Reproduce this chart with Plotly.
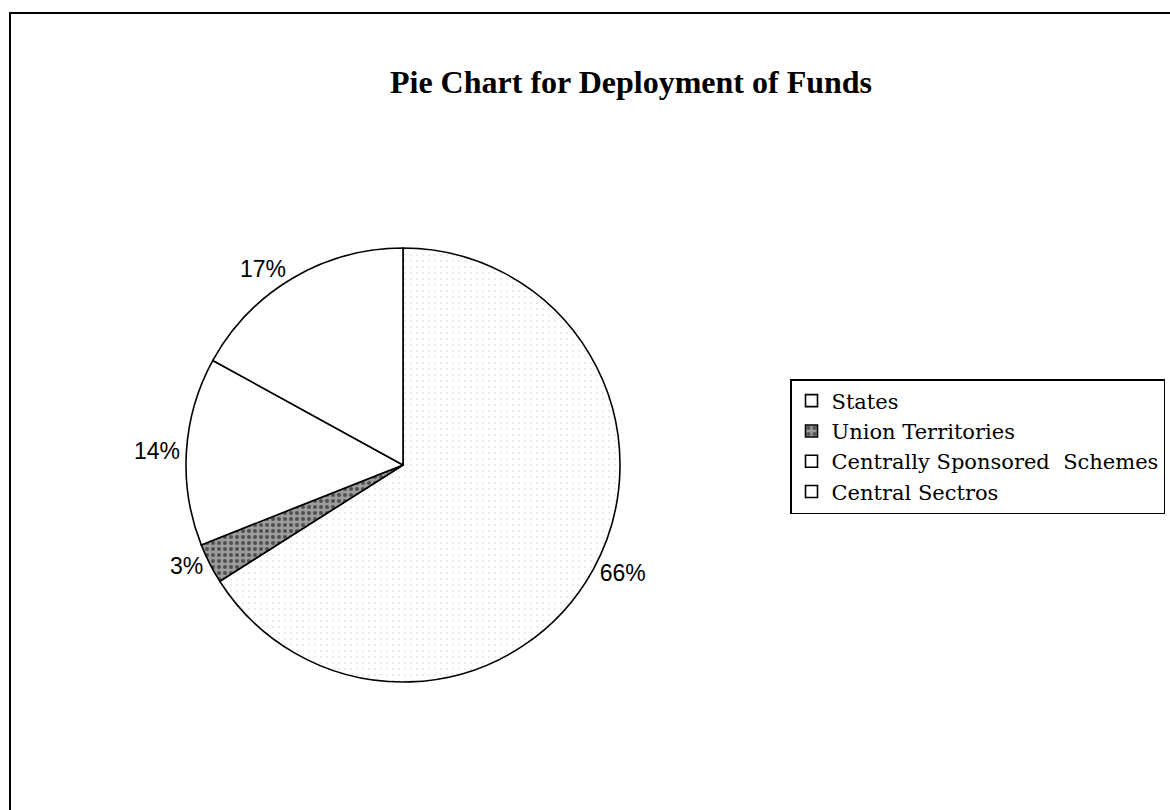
import plotly.graph_objects as go

labels = ["States", "Union Territories", "Centrally Sponsored  Schemes", "Central Sectros"]
values = [66, 3, 14, 17]
bg_colors = ["#ffffff", "#9c9c9c", "#ffffff", "#ffffff"]
fg_colors = ["#cfcfcf", "#505050", "#ffffff", "#ffffff"]
solidity = [0.05, 0.35, 0.0, 0.0]

W, H = 1170, 810
cx, cy, r = 403, 465, 217

fig = go.Figure(go.Pie(
    labels=labels,
    values=values,
    sort=False,
    direction="clockwise",
    rotation=0,
    texttemplate="%{percent:.0%}",
    textposition="outside",
    textfont=dict(family="Liberation Sans", size=23, color="black"),
    marker=dict(
        colors=bg_colors,
        line=dict(color="black", width=1.6),
        pattern=dict(shape=".", bgcolor=bg_colors, fgcolor=fg_colors,
                     size=6, solidity=solidity),
    ),
    domain=dict(x=[(cx - r) / W, (cx + r) / W], y=[1 - (cy + r) / H, 1 - (cy - r) / H]),
    showlegend=True,
    hoverinfo="label+percent",
))

fig.update_layout(
    width=W, height=H,
    margin=dict(l=0, r=0, t=0, b=0),
    paper_bgcolor="white",
    plot_bgcolor="white",
    title=dict(text="<b>Pie Chart for Deployment of Funds</b>",
               x=631 / W, xanchor="center", y=1 - 82 / H, yanchor="middle",
               font=dict(family="Liberation Serif", size=32, color="black")),
    legend=dict(x=790 / W, y=1 - 379 / H, xanchor="left", yanchor="top",
                bordercolor="black", borderwidth=1.5, bgcolor="white",
                font=dict(family="DejaVu Serif", size=21, color="black"),
                itemwidth=30, tracegroupgap=0),
    shapes=[dict(type="rect", xref="paper", yref="paper",
                 x0=10 / W, x1=1.02, y0=-0.02, y1=1 - 13 / H,
                 line=dict(color="black", width=2))],
)

fig.write_html("out.html", config={"displayModeBar": False},
               post_script="document.body.style.margin='0';")
